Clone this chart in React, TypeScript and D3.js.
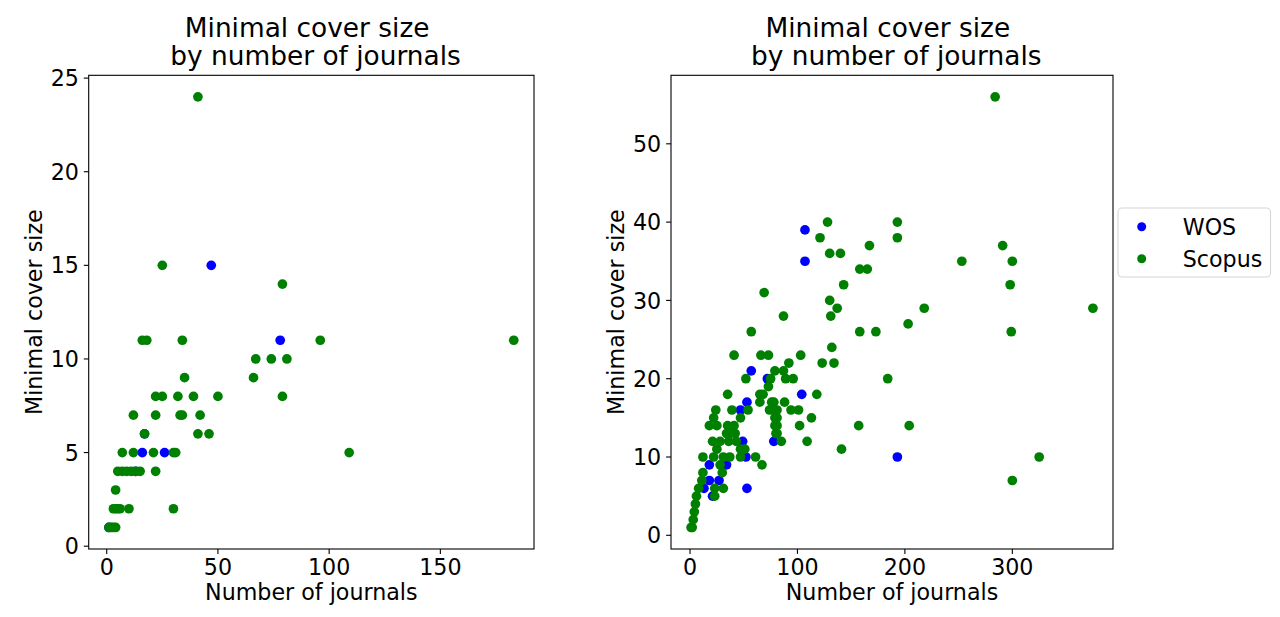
import React from 'react';
import * as d3 from 'd3';

// left panel data (number of journals, minimal cover size)
const leftWosX = [1, 13, 16, 26, 17, 78, 47];
const leftWosY = [1, 4, 5, 5, 6, 11, 15];
const leftScopusX = [
    1, 2, 3, 4,
    3, 4, 5, 6, 10, 30,
    4,
    5, 7, 9, 11, 13, 15, 22,
    7, 12, 21, 30, 31, 109,
    17, 41, 46,
    12, 22, 33, 34, 42,
    22, 25, 32, 39, 50, 79,
    35, 66,
    67, 74, 81,
    16, 18, 34, 96, 183,
    79,
    25,
    41,
];
const leftScopusY = [
    1, 1, 1, 1,
    2, 2, 2, 2, 2, 2,
    3,
    4, 4, 4, 4, 4, 4, 4,
    5, 5, 5, 5, 5, 5,
    6, 6, 6,
    7, 7, 7, 7, 7,
    8, 8, 8, 8, 8, 8,
    9, 9,
    10, 10, 10,
    11, 11, 11, 11, 11,
    14,
    15,
    24,
];

// right panel data
const rightWosX = [107, 107, 72, 57, 104, 53, 47, 49, 78, 52, 193, 18, 34, 18, 27, 13, 53, 21];
const rightWosY = [39, 35, 20, 21, 18, 17, 16, 12, 12, 10, 10, 9, 9, 7, 7, 6, 6, 5];
const rightScopusX = [
    284,
    193, 128,
    193, 121,
    291, 167,
    130, 140,
    253, 300,
    158, 165,
    143, 298,
    69,
    130,
    137, 218, 375,
    131, 87,
    203,
    57, 158, 173, 299,
    132,
    41, 66, 73, 103,
    92, 123, 134,
    79, 87,
    52, 75, 89, 96, 184,
    68, 73,
    35, 65, 118,
    65, 76, 78, 88,
    24, 39, 54, 74, 77, 81, 94, 101,
    22, 47, 79, 81, 113,
    18, 25, 35, 41, 79, 81, 102, 157, 204,
    34, 37, 42, 80, 81,
    21, 28, 36, 43, 85, 109,
    25, 47, 51, 141,
    12, 22, 31, 37, 47, 61, 325,
    28, 67,
    12, 30,
    11, 300,
    8, 23, 31,
    6, 23,
    5, 4, 3, 2, 1,
];
const rightScopusY = [
    56,
    40, 40,
    38, 38,
    37, 37,
    36, 36,
    35, 35,
    34, 34,
    32, 32,
    31,
    30,
    29, 29, 29,
    28, 28,
    27,
    26, 26, 26, 26,
    24,
    23, 23, 23, 23,
    22, 22, 22,
    21, 21,
    20, 20, 20, 20, 20,
    18, 19,
    18, 18, 18,
    17, 17, 17, 17,
    16, 16, 16, 16, 16, 16, 16, 16,
    15, 15, 15, 15, 15,
    14, 14, 14, 14, 14, 14, 14, 14, 14,
    13, 13, 13, 13, 13,
    12, 12, 12, 12, 12, 12,
    11, 11, 11, 11,
    10, 10, 10, 10, 10, 10, 10,
    9, 9,
    8, 8,
    7, 7,
    6, 6, 6,
    5, 5,
    4, 3, 2, 1, 1,
];

const leftXTicks = [0, 50, 100, 150];
const leftYTicks = [0, 5, 10, 15, 20, 25];
const rightXTicks = [0, 100, 200, 300];
const rightYTicks = [0, 10, 20, 30, 40, 50];

const seriesNames = ['WOS', 'Scopus'];
const seriesColors = ['#0000ff', '#008000'];

const FONT = '"DejaVu Sans", sans-serif';
const TICK_SIZE = 22.2;
const TITLE_SIZE = 26.4;
const R = 4.85;

// matplotlib style 5% padding around the data
const padded = (vals: number[]): [number, number] => {
    const [lo, hi] = d3.extent(vals) as [number, number];
    const m = (hi - lo) * 0.05;
    return [lo - m, hi + m];
};

interface PanelProps {
    left: number;
    right: number;
    top: number;
    bottom: number;
    wosX: number[];
    wosY: number[];
    scopusX: number[];
    scopusY: number[];
    xTicks: number[];
    yTicks: number[];
    ylabelX: number;
}

const Panel: React.FC<PanelProps> = ({left, right, top, bottom, wosX, wosY, scopusX, scopusY, xTicks, yTicks, ylabelX}) => {
    const x = d3.scaleLinear().domain(padded([...wosX, ...scopusX])).range([left, right]);
    const y = d3.scaleLinear().domain(padded([...wosY, ...scopusY])).range([bottom, top]);
    const cx = (left + right) / 2;
    const cy = (top + bottom) / 2;

    return (
        <g fontFamily={FONT}>
            {/* title, two lines centred one by one like matplotlib */}
            <text x={cx} y={36.7} textAnchor="middle" fontSize={TITLE_SIZE} xmlSpace="preserve">{'Minimal cover size '}</text>
            <text x={cx} y={65} textAnchor="middle" fontSize={TITLE_SIZE} xmlSpace="preserve">{' by number of journals'}</text>

            {wosX.map((d, i) => (
                <circle key={'w' + i} cx={x(d)} cy={y(wosY[i])} r={R} fill={seriesColors[0]}/>
            ))}
            {scopusX.map((d, i) => (
                <circle key={'s' + i} cx={x(d)} cy={y(scopusY[i])} r={R} fill={seriesColors[1]}/>
            ))}

            <rect x={left} y={top} width={right - left} height={bottom - top} fill="none" stroke="#000" strokeWidth={1.1}/>

            {xTicks.map(t => (
                <g key={'xt' + t}>
                    <line x1={x(t)} x2={x(t)} y1={bottom} y2={bottom + 4.9} stroke="#000" strokeWidth={1.1}/>
                    <text x={x(t)} y={575} textAnchor="middle" fontSize={TICK_SIZE}>{t}</text>
                </g>
            ))}
            {yTicks.map(t => (
                <g key={'yt' + t}>
                    <line x1={left - 4.9} x2={left} y1={y(t)} y2={y(t)} stroke="#000" strokeWidth={1.1}/>
                    <text x={left - 9.8} y={y(t) + 8.1} textAnchor="end" fontSize={TICK_SIZE}>{t}</text>
                </g>
            ))}

            <text x={cx} y={599.5} textAnchor="middle" fontSize={TICK_SIZE}>Number of journals</text>
            <text transform={`translate(${ylabelX},${cy}) rotate(-90)`} textAnchor="middle" fontSize={TICK_SIZE}>Minimal cover size</text>
        </g>
    );
};

const App: React.FC = () => {
    return (
        <svg width={1280} height={617} style={{position: 'absolute', left: 0, top: 0, background: '#fff'}}>
            <rect width={1280} height={617} fill="#fff"/>
            <Panel left={88.7} right={534} top={75.3} bottom={549}
                   wosX={leftWosX} wosY={leftWosY} scopusX={leftScopusX} scopusY={leftScopusY}
                   xTicks={leftXTicks} yTicks={leftYTicks} ylabelX={42}/>
            <Panel left={671} right={1113} top={75.3} bottom={549}
                   wosX={rightWosX} wosY={rightWosY} scopusX={rightScopusX} scopusY={rightScopusY}
                   xTicks={rightXTicks} yTicks={rightYTicks} ylabelX={624}/>

            {/* legend */}
            <g fontFamily={FONT}>
                <rect x={1118} y={208} width={152.5} height={69} rx={4} fill="#fff" fillOpacity={0.8}
                      stroke="#d6d6d6" strokeWidth={1.1}/>
                {seriesNames.map((name, i) => (
                    <g key={name}>
                        <circle cx={1141.7} cy={226.7 + i * 32} r={4.5} fill={seriesColors[i]}/>
                        <text x={1182.7} y={234.5 + i * 32} fontSize={TICK_SIZE}>{name}</text>
                    </g>
                ))}
            </g>
        </svg>
    );
};

export default App;
